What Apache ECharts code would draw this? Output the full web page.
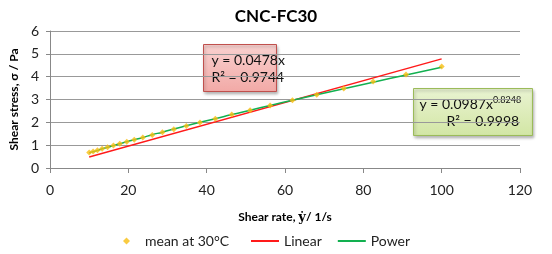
<!DOCTYPE html>
<html>
<head>
<meta charset="utf-8">
<script src="https://cdn.jsdelivr.net/npm/echarts@6/dist/echarts.min.js"></script>
<style>
  html, body { margin: 0; padding: 0; background: #fff; }
  #chart { width: 552px; height: 254px; }
</style>
</head>
<body>
<div id="chart"></div>
<script>
// shear rate (1/s) and mean shear stress (Pa)
var shear_rate = [10.0, 11.0, 12.1, 13.3, 14.7, 16.2, 17.8, 19.6, 21.5, 23.7, 26.1, 28.7,
  31.6, 34.8, 38.3, 42.2, 46.4, 51.1, 56.2, 61.9, 68.1, 75.0, 82.5, 90.9, 100.0];
var shear_stress = [0.68, 0.72, 0.78, 0.84, 0.91, 0.98, 1.06, 1.15, 1.24, 1.34, 1.45, 1.57,
  1.70, 1.84, 1.99, 2.16, 2.34, 2.53, 2.74, 2.97, 3.21, 3.48, 3.79, 4.09, 4.45];
// trend lines as drawn in the picture
var linear_x = [10, 100];
var linear_y = [0.48, 4.78];
var power_y = [0.66, 0.71, 0.77, 0.84, 0.91, 0.98, 1.06, 1.15, 1.24, 1.34, 1.46, 1.57,
  1.71, 1.85, 2.00, 2.16, 2.34, 2.53, 2.74, 2.97, 3.21, 3.47, 3.76, 4.07, 4.41];
var x_ticks = [0, 120, 20];
var y_ticks = [0, 6, 1];

var font = "Lato";
var chart = echarts.init(document.getElementById("chart"));

function pairs(xs, ys) {
  var out = [];
  for (var i = 0; i < xs.length; i++) out.push([xs[i], ys[i]]);
  return out;
}

var option = {
  animation: false,
  textStyle: { fontFamily: font },
  title: {
    text: "CNC-FC30",
    left: "center",
    top: 3,
    textStyle: { fontSize: 17, fontWeight: "bold", color: "#000", fontFamily: font }
  },
  grid: { left: 48, right: 32, top: 31, bottom: 86 },
  xAxis: {
    type: "value",
    min: x_ticks[0], max: x_ticks[1], interval: x_ticks[2],
    name: "{a|Shear rate, }{g|ẏ}{a|/ 1/s}",
    nameLocation: "middle",
    nameGap: 43,
    nameTextStyle: {
      rich: {
        a: { fontSize: 12, fontWeight: "bold", color: "#000", fontFamily: font },
        g: { fontSize: 13, fontWeight: "bold", color: "#000", fontFamily: "DejaVu Serif" }
      }
    },
    axisLine: { show: true, onZero: false, lineStyle: { color: "#888", width: 1 } },
    axisTick: { show: true, length: 5, lineStyle: { color: "#888" } },
    axisLabel: { margin: 15, fontSize: 14, color: "#222" },
    splitLine: { show: false }
  },
  yAxis: {
    type: "value",
    min: y_ticks[0], max: y_ticks[1], interval: y_ticks[2],
    name: "Shear stress, σ / Pa",
    nameLocation: "middle",
    nameGap: 28,
    nameTextStyle: { fontSize: 12, fontWeight: "bold", color: "#000" },
    axisLine: { show: true, lineStyle: { color: "#888", width: 1 } },
    axisTick: { show: true, length: 4, lineStyle: { color: "#888" } },
    axisLabel: { margin: 11, fontSize: 14, color: "#222" },
    splitLine: { show: true, lineStyle: { color: "#999", width: 1 } }
  },
  legend: [
    {
      bottom: 1,
      left: 118,
      itemWidth: 7,
      itemHeight: 7,
      itemGap: 18,
      textStyle: { fontSize: 14, color: "#222", padding: [0, 0, 0, 10] },
      data: [{ name: "mean at 30°C", icon: "diamond" }]
    },
    {
      bottom: 1,
      left: 246,
      itemWidth: 28,
      itemHeight: 2,
      itemGap: 16,
      textStyle: { fontSize: 14, color: "#222" },
      data: [{ name: "Linear", icon: "rect" }, { name: "Power", icon: "rect" }]
    }
  ],
  series: [
    {
      name: "Linear",
      type: "line",
      data: pairs(linear_x, linear_y),
      symbol: "none",
      lineStyle: { color: "#FF1A1A", width: 1.5 },
      itemStyle: { color: "#FF1A1A" },
      z: 2
    },
    {
      name: "Power",
      type: "line",
      data: pairs(shear_rate, power_y),
      symbol: "none",
      smooth: true,
      lineStyle: { color: "#12B050", width: 1.5 },
      itemStyle: { color: "#12B050" },
      z: 3
    },
    {
      name: "mean at 30°C",
      type: "scatter",
      data: pairs(shear_rate, shear_stress),
      symbol: "diamond",
      symbolSize: 6,
      itemStyle: { color: "#F7BE12" },
      z: 4
    }
  ],
  graphic: [
    {
      type: "group",
      left: 203, top: 44,
      children: [
        {
          type: "rect",
          shape: { x: 0, y: 0, width: 73, height: 47 },
          style: {
            fill: new echarts.graphic.LinearGradient(0, 0, 0, 1, [
              { offset: 0, color: "#F9D2D0" }, { offset: 1, color: "#F2A9A6" }
            ]),
            stroke: "#C0504D", lineWidth: 1,
            shadowBlur: 3, shadowOffsetX: 1, shadowOffsetY: 2, shadowColor: "rgba(0,0,0,0.3)"
          }
        },
        {
          type: "text",
          x: 8, y: 7,
          style: {
            text: "y = 0.0478x\nR² = 0.9744",
            font: "14px " + font, fill: "#111", lineHeight: 17
          }
        }
      ]
    },
    {
      type: "group",
      left: 413, top: 88,
      children: [
        {
          type: "rect",
          shape: { x: 0, y: 0, width: 119, height: 47 },
          style: {
            fill: new echarts.graphic.LinearGradient(0, 0, 0, 1, [
              { offset: 0, color: "#E9F3D2" }, { offset: 1, color: "#D2E6A4" }
            ]),
            stroke: "#9BBB59", lineWidth: 1,
            shadowBlur: 3, shadowOffsetX: 1, shadowOffsetY: 2, shadowColor: "rgba(0,0,0,0.3)"
          }
        },
        {
          type: "text",
          x: 6, y: 7,
          style: {
            text: "{t|y = 0.0987x}{s|0.8248}\n{c|R² = 0.9998}",
            rich: {
              t: { font: "14px " + font, fill: "#111", lineHeight: 17 },
              s: { font: "9px " + font, fill: "#111", verticalAlign: "top", padding: [0, 0, 6, 0] },
              c: { font: "14px " + font, fill: "#111", lineHeight: 17, padding: [0, 0, 0, 27] }
            }
          }
        }
      ]
    }
  ]
};

chart.setOption(option);
window.onresize = function () { chart.resize(); };
</script>
</body>
</html>
